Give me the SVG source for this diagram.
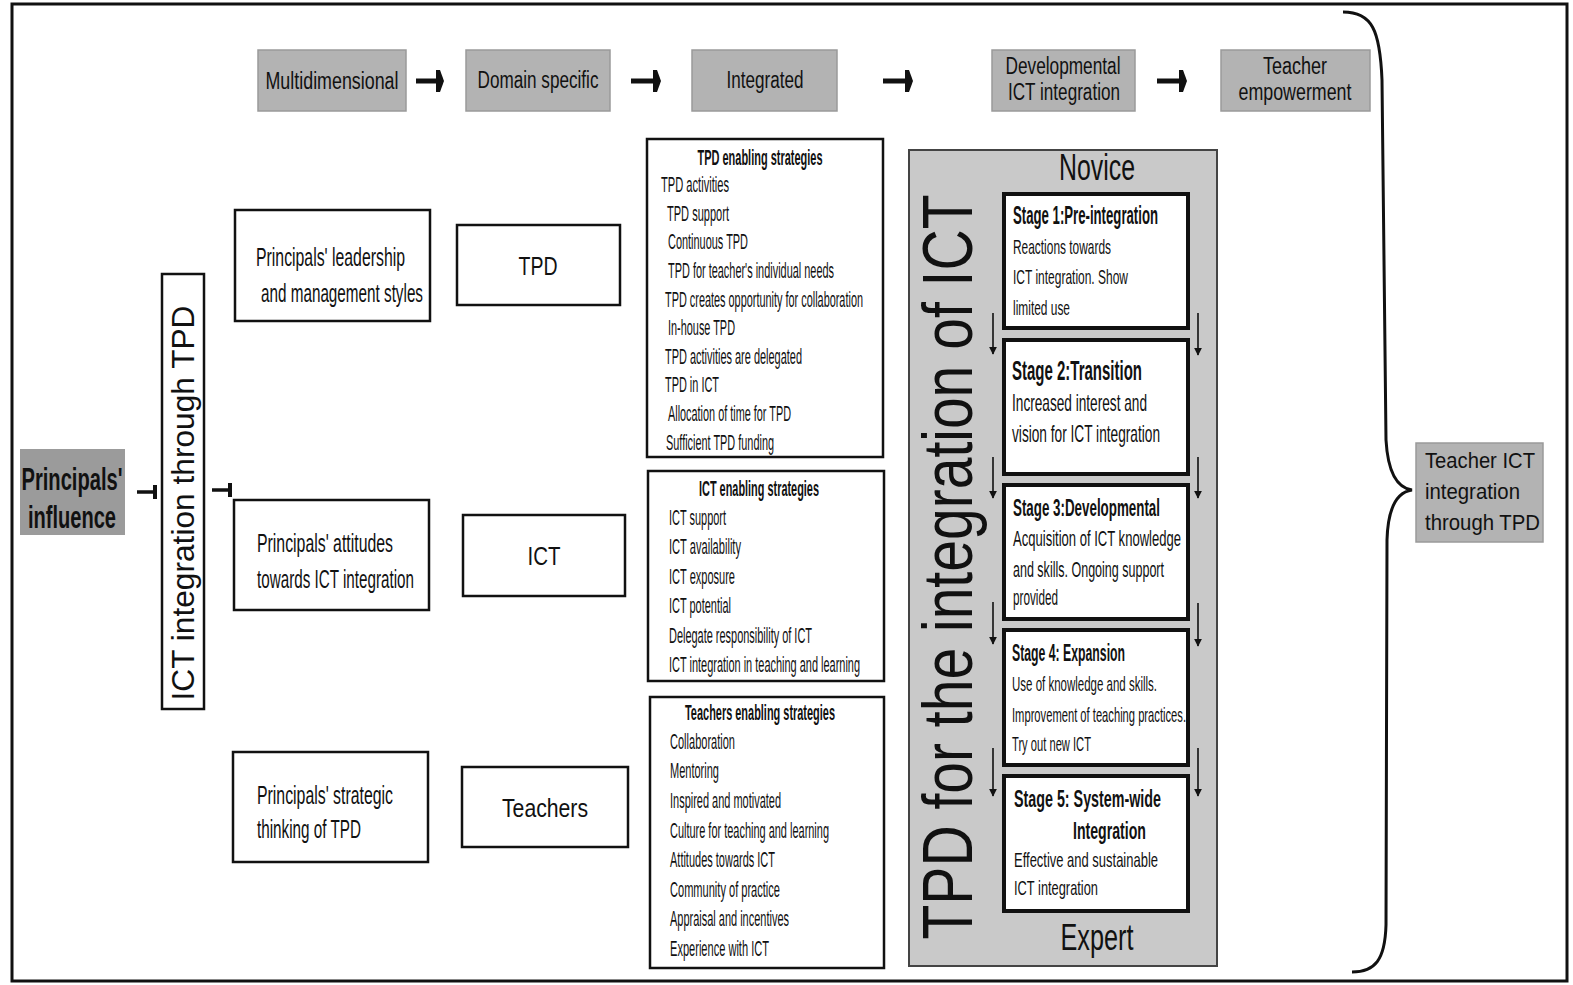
<svg xmlns="http://www.w3.org/2000/svg" width="1573" height="985" viewBox="0 0 1573 985">
<style>
.n{font-family:"Liberation Sans Narrow","Liberation Sans",Arial,sans-serif;fill:#111}
.b{font-weight:bold}
.r{font-family:"Liberation Sans",Arial,sans-serif;fill:#111}
.gbox{fill:#b3b3b3;stroke:#9a9a9a;stroke-width:1.5}
.wbox{fill:#fff;stroke:#111;stroke-width:2.5}
.sbox{fill:#fff;stroke:#111;stroke-width:4}
.thin{stroke:#111;stroke-width:1.6;fill:none}
.thick{stroke:#111;stroke-width:5;fill:none}
</style>
<defs>
<marker id="hd" viewBox="0 0 10 10" refX="9" refY="5" markerWidth="8" markerHeight="8" markerUnits="userSpaceOnUse" orient="auto"><path d="M0,0 L10,5 L0,10 z" fill="#111"/></marker>
<marker id="bar" viewBox="0 0 4 14" refX="2" refY="7" markerWidth="4" markerHeight="14" markerUnits="userSpaceOnUse" orient="auto"><rect x="0" y="0" width="4" height="14" fill="#111"/></marker>
<marker id="hd2" viewBox="0 0 8 22" refX="7" refY="11" markerWidth="8" markerHeight="22" markerUnits="userSpaceOnUse" orient="auto"><path d="M0,0 L4,0 L8,11 L4,22 L0,22 z" fill="#111"/></marker>
</defs>
<rect x="0" y="0" width="1573" height="985" fill="#fff"/>
<rect x="12" y="4" width="1555" height="977" fill="none" stroke="#111" stroke-width="3"/>

<g id="top-multidimensional"><rect class="gbox" x="258" y="50" width="148" height="61"/><text class="n" x="332" y="89" font-size="23" text-anchor="middle" textLength="133" lengthAdjust="spacingAndGlyphs">Multidimensional</text></g>
<g id="top-domain"><rect class="gbox" x="466" y="50" width="144" height="61"/><text class="n" x="538" y="88" font-size="23" text-anchor="middle" textLength="121" lengthAdjust="spacingAndGlyphs">Domain specific</text></g>
<g id="top-integrated"><rect class="gbox" x="692" y="50" width="145" height="61"/><text class="n" x="765" y="88" font-size="23" text-anchor="middle" textLength="77" lengthAdjust="spacingAndGlyphs">Integrated</text></g>
<g id="top-developmental"><rect class="gbox" x="992" y="50" width="143" height="61"/><text class="n" x="1063" y="74" font-size="23" text-anchor="middle" textLength="115" lengthAdjust="spacingAndGlyphs">Developmental</text><text class="n" x="1064" y="100" font-size="23" text-anchor="middle" textLength="112" lengthAdjust="spacingAndGlyphs">ICT integration</text></g>
<g id="top-empowerment"><rect class="gbox" x="1221" y="50" width="149" height="61"/><text class="n" x="1295" y="74" font-size="23" text-anchor="middle" textLength="64" lengthAdjust="spacingAndGlyphs">Teacher</text><text class="n" x="1295" y="100" font-size="23" text-anchor="middle" textLength="113" lengthAdjust="spacingAndGlyphs">empowerment</text></g>

<g id="influence"><rect x="20" y="449" width="105" height="86" fill="#9b9b9b"/><text class="n b" x="72" y="490" font-size="32" text-anchor="middle" textLength="101" lengthAdjust="spacingAndGlyphs">Principals'</text><text class="n b" x="72" y="528" font-size="32" text-anchor="middle" textLength="88" lengthAdjust="spacingAndGlyphs">influence</text></g>

<g id="ict-through-tpd"><rect class="wbox" x="162" y="274" width="42" height="435"/><text class="r" transform="translate(194,503) rotate(-90)" x="0" y="0" font-size="31" text-anchor="middle" textLength="395" lengthAdjust="spacingAndGlyphs">ICT integration through TPD</text></g>

<g id="p-leadership"><rect class="wbox" x="235" y="210" width="195" height="111"/><text class="n" x="256" y="266" font-size="26" textLength="149" lengthAdjust="spacingAndGlyphs">Principals'  leadership</text><text class="n" x="261" y="302" font-size="26" textLength="162" lengthAdjust="spacingAndGlyphs">and management styles</text></g>
<g id="p-attitudes"><rect class="wbox" x="234" y="500" width="195" height="110"/><text class="n" x="257" y="552" font-size="26" textLength="136" lengthAdjust="spacingAndGlyphs">Principals'  attitudes</text><text class="n" x="257" y="588" font-size="26" textLength="157" lengthAdjust="spacingAndGlyphs">towards ICT integration</text></g>
<g id="p-strategic"><rect class="wbox" x="233" y="752" width="195" height="110"/><text class="n" x="257" y="804" font-size="26" textLength="136" lengthAdjust="spacingAndGlyphs">Principals'  strategic</text><text class="n" x="257" y="838" font-size="26" textLength="104" lengthAdjust="spacingAndGlyphs">thinking of TPD</text></g>

<g id="d-tpd"><rect class="wbox" x="457" y="225" width="163" height="80"/><text class="n" x="538" y="275" font-size="26" text-anchor="middle" textLength="39" lengthAdjust="spacingAndGlyphs">TPD</text></g>
<g id="d-ict"><rect class="wbox" x="463" y="515" width="162" height="81"/><text class="n" x="544" y="565" font-size="26" text-anchor="middle" textLength="33" lengthAdjust="spacingAndGlyphs">ICT</text></g>
<g id="d-teachers"><rect class="wbox" x="462" y="767" width="166" height="80"/><text class="n" x="545" y="817" font-size="26" text-anchor="middle" textLength="86" lengthAdjust="spacingAndGlyphs">Teachers</text></g>

<g id="s-tpd"><rect class="wbox" x="647" y="139" width="236" height="318"/>
<text class="n b" x="760" y="165" font-size="22" text-anchor="middle" textLength="125" lengthAdjust="spacingAndGlyphs">TPD enabling strategies</text>
<text class="n" x="661" y="192" font-size="22" textLength="68" lengthAdjust="spacingAndGlyphs">TPD activities</text>
<text class="n" x="667" y="221" font-size="22" textLength="62" lengthAdjust="spacingAndGlyphs">TPD support</text>
<text class="n" x="668" y="249" font-size="22" textLength="80" lengthAdjust="spacingAndGlyphs">Continuous TPD</text>
<text class="n" x="668" y="278" font-size="22" textLength="166" lengthAdjust="spacingAndGlyphs">TPD for teacher's individual needs</text>
<text class="n" x="665" y="307" font-size="22" textLength="198" lengthAdjust="spacingAndGlyphs">TPD creates opportunity for collaboration</text>
<text class="n" x="668" y="335" font-size="22" textLength="67" lengthAdjust="spacingAndGlyphs">In-house TPD</text>
<text class="n" x="665" y="364" font-size="22" textLength="137" lengthAdjust="spacingAndGlyphs">TPD activities are delegated</text>
<text class="n" x="665" y="392" font-size="22" textLength="54" lengthAdjust="spacingAndGlyphs">TPD in ICT</text>
<text class="n" x="668" y="421" font-size="22" textLength="123" lengthAdjust="spacingAndGlyphs">Allocation of time for TPD</text>
<text class="n" x="666" y="450" font-size="22" textLength="108" lengthAdjust="spacingAndGlyphs">Sufficient TPD funding</text>
</g>
<g id="s-ict"><rect class="wbox" x="648" y="471" width="236" height="210"/>
<text class="n b" x="759" y="496" font-size="22" text-anchor="middle" textLength="120" lengthAdjust="spacingAndGlyphs">ICT enabling strategies</text>
<text class="n" x="669" y="525" font-size="22" textLength="57" lengthAdjust="spacingAndGlyphs">ICT support</text>
<text class="n" x="669" y="554" font-size="22" textLength="72" lengthAdjust="spacingAndGlyphs">ICT availability</text>
<text class="n" x="669" y="584" font-size="22" textLength="66" lengthAdjust="spacingAndGlyphs">ICT exposure</text>
<text class="n" x="669" y="613" font-size="22" textLength="62" lengthAdjust="spacingAndGlyphs">ICT potential</text>
<text class="n" x="669" y="643" font-size="22" textLength="143" lengthAdjust="spacingAndGlyphs">Delegate responsibility of ICT</text>
<text class="n" x="669" y="672" font-size="22" textLength="191" lengthAdjust="spacingAndGlyphs">ICT integration in teaching and learning</text>
</g>
<g id="s-teachers"><rect class="wbox" x="650" y="697" width="234" height="271"/>
<text class="n b" x="760" y="720" font-size="22" text-anchor="middle" textLength="150" lengthAdjust="spacingAndGlyphs">Teachers enabling strategies</text>
<text class="n" x="670" y="749" font-size="22" textLength="65" lengthAdjust="spacingAndGlyphs">Collaboration</text>
<text class="n" x="670" y="778" font-size="22" textLength="49" lengthAdjust="spacingAndGlyphs">Mentoring</text>
<text class="n" x="670" y="808" font-size="22" textLength="111" lengthAdjust="spacingAndGlyphs">Inspired and motivated</text>
<text class="n" x="670" y="838" font-size="22" textLength="159" lengthAdjust="spacingAndGlyphs">Culture for teaching and learning</text>
<text class="n" x="670" y="867" font-size="22" textLength="105" lengthAdjust="spacingAndGlyphs">Attitudes towards ICT</text>
<text class="n" x="670" y="897" font-size="22" textLength="110" lengthAdjust="spacingAndGlyphs">Community of practice</text>
<text class="n" x="670" y="926" font-size="22" textLength="119" lengthAdjust="spacingAndGlyphs">Appraisal and incentives</text>
<text class="n" x="670" y="956" font-size="22" textLength="99" lengthAdjust="spacingAndGlyphs">Experience with ICT</text>
</g>

<g id="panel"><rect x="909" y="150" width="308" height="816" fill="#c9c9c9" stroke="#444" stroke-width="2"/>
<text class="r" transform="translate(972,567) rotate(-90)" x="0" y="0" font-size="70" text-anchor="middle" textLength="745" lengthAdjust="spacingAndGlyphs">TPD for the integration of ICT</text>
<text class="n" x="1097" y="180" font-size="36" text-anchor="middle" textLength="76" lengthAdjust="spacingAndGlyphs">Novice</text>
<text class="n" x="1097" y="950" font-size="36" text-anchor="middle" textLength="73" lengthAdjust="spacingAndGlyphs">Expert</text>
</g>

<g id="stage1"><rect class="sbox" x="1004" y="194" width="184" height="134"/>
<text class="n b" x="1013" y="224" font-size="25" textLength="145" lengthAdjust="spacingAndGlyphs">Stage 1:Pre-integration</text>
<text class="n" x="1013" y="254" font-size="21" textLength="98" lengthAdjust="spacingAndGlyphs">Reactions towards</text>
<text class="n" x="1013" y="284" font-size="21" textLength="115" lengthAdjust="spacingAndGlyphs">ICT integration. Show</text>
<text class="n" x="1013" y="315" font-size="21" textLength="57" lengthAdjust="spacingAndGlyphs">limited use</text>
</g>
<g id="stage2"><rect class="sbox" x="1004" y="340" width="184" height="134"/>
<text class="n b" x="1012" y="380" font-size="27" textLength="130" lengthAdjust="spacingAndGlyphs">Stage 2:Transition</text>
<text class="n" x="1012" y="411" font-size="24" textLength="135" lengthAdjust="spacingAndGlyphs">Increased interest and</text>
<text class="n" x="1012" y="442" font-size="24" textLength="148" lengthAdjust="spacingAndGlyphs">vision for ICT integration</text>
</g>
<g id="stage3"><rect class="sbox" x="1004" y="485" width="184" height="134"/>
<text class="n b" x="1013" y="516" font-size="24" textLength="147" lengthAdjust="spacingAndGlyphs">Stage 3:Developmental</text>
<text class="n" x="1013" y="546" font-size="22" textLength="168" lengthAdjust="spacingAndGlyphs">Acquisition of ICT knowledge</text>
<text class="n" x="1013" y="577" font-size="22" textLength="151" lengthAdjust="spacingAndGlyphs">and skills. Ongoing support</text>
<text class="n" x="1013" y="605" font-size="22" textLength="45" lengthAdjust="spacingAndGlyphs">provided</text>
</g>
<g id="stage4"><rect class="sbox" x="1004" y="630" width="184" height="135"/>
<text class="n b" x="1012" y="661" font-size="24" textLength="113" lengthAdjust="spacingAndGlyphs">Stage 4: Expansion</text>
<text class="n" x="1012" y="691" font-size="21" textLength="145" lengthAdjust="spacingAndGlyphs">Use of knowledge and  skills.</text>
<text class="n" x="1012" y="722" font-size="21" textLength="174" lengthAdjust="spacingAndGlyphs">Improvement of teaching practices.</text>
<text class="n" x="1012" y="751" font-size="21" textLength="79" lengthAdjust="spacingAndGlyphs">Try out new ICT</text>
</g>
<g id="stage5"><rect class="sbox" x="1004" y="776" width="184" height="135"/>
<text class="n b" x="1014" y="807" font-size="24" textLength="147" lengthAdjust="spacingAndGlyphs">Stage 5: System-wide</text>
<text class="n b" x="1073" y="839" font-size="24" textLength="73" lengthAdjust="spacingAndGlyphs">Integration</text>
<text class="n" x="1014" y="867" font-size="21" textLength="144" lengthAdjust="spacingAndGlyphs">Effective and sustainable</text>
<text class="n" x="1014" y="895" font-size="21" textLength="84" lengthAdjust="spacingAndGlyphs">ICT integration</text>
</g>

<g id="outcome"><rect class="gbox" x="1416" y="443" width="127" height="99"/>
<text class="r" x="1425" y="468" font-size="22" textLength="110" lengthAdjust="spacingAndGlyphs">Teacher ICT</text>
<text class="r" x="1425" y="499" font-size="22" textLength="95" lengthAdjust="spacingAndGlyphs">integration</text>
<text class="r" x="1425" y="530" font-size="22" textLength="115" lengthAdjust="spacingAndGlyphs">through TPD</text>
</g>

<g id="connectors">
<line class="thick" x1="416" y1="81" x2="443" y2="81" marker-end="url(#hd2)"/>
<line class="thick" x1="631" y1="81" x2="660" y2="81" marker-end="url(#hd2)"/>
<line class="thick" x1="883" y1="81" x2="912" y2="81" marker-end="url(#hd2)"/>
<line class="thick" x1="1157" y1="81" x2="1186" y2="81" marker-end="url(#hd2)"/>
<line x1="137" y1="492" x2="155" y2="492" stroke="#111" stroke-width="3.5" marker-end="url(#bar)"/>
<line x1="212" y1="490" x2="230" y2="490" stroke="#111" stroke-width="3.5" marker-end="url(#bar)"/>
<line class="thin" x1="993" y1="313" x2="993" y2="354" marker-end="url(#hd)"/>
<line class="thin" x1="993" y1="457" x2="993" y2="498" marker-end="url(#hd)"/>
<line class="thin" x1="993" y1="602" x2="993" y2="644" marker-end="url(#hd)"/>
<line class="thin" x1="993" y1="748" x2="993" y2="796" marker-end="url(#hd)"/>
<line class="thin" x1="1198" y1="313" x2="1198" y2="355" marker-end="url(#hd)"/>
<line class="thin" x1="1198" y1="457" x2="1198" y2="498" marker-end="url(#hd)"/>
<line class="thin" x1="1198" y1="603" x2="1198" y2="646" marker-end="url(#hd)"/>
<line class="thin" x1="1198" y1="748" x2="1198" y2="796" marker-end="url(#hd)"/>
<path d="M1343,12 C1372,12 1380,30 1382,80 L1386,440 C1388,475 1398,488 1412,490 C1398,492 1388,505 1387,540 L1386,925 C1385,960 1375,972 1352,972" stroke="#111" stroke-width="3" fill="none"/>
</g>
</svg>
